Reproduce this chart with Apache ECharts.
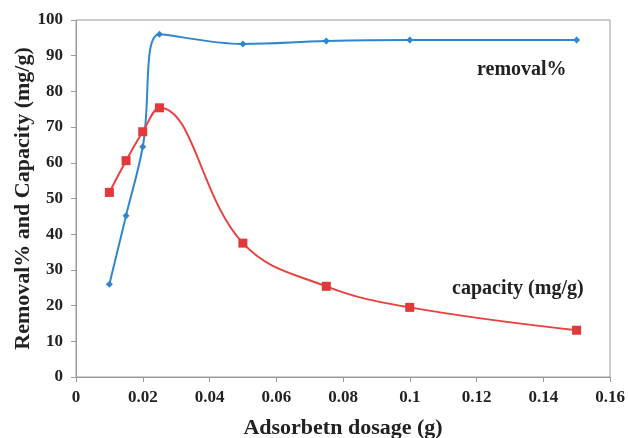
<!DOCTYPE html>
<html><head><meta charset="utf-8">
<script src="https://cdn.jsdelivr.net/npm/echarts@6/dist/echarts.min.js"></script>
<style>html,body{margin:0;padding:0;background:#fff}#c{width:628px;height:438px}</style>
</head><body><div id="c"></div>
<script>
const dosage = [0.01, 0.015, 0.02, 0.025, 0.05, 0.075, 0.1, 0.15];
const removal = [26, 45.2, 64.5, 96, 93.3, 94.1, 94.4, 94.4];
const capacity = [51.7, 60.6, 68.7, 75.4, 37.5, 25.4, 19.5, 13.1];
const xTicks = [0, 0.02, 0.04, 0.06, 0.08, 0.1, 0.12, 0.14, 0.16];
const yTicks = [0, 10, 20, 30, 40, 50, 60, 70, 80, 90, 100];

const font = '"Liberation Serif", "DejaVu Serif", serif';
const chart = echarts.init(document.getElementById('c'));
chart.setOption({
  animation: false,
  grid: {left: 76, right: 18, top: 20, bottom: 61, show: true, borderColor: '#9a9a9a', borderWidth: 1,
         containLabel: false, outerBoundsMode: 'none'},
  xAxis: {
    type: 'value', min: 0, max: 0.16, interval: 0.02,
    name: 'Adsorbetn dosage (g)', nameLocation: 'middle', nameGap: 40, nameMoveOverlap: false,
    nameTextStyle: {fontFamily: font, fontWeight: 'bold', fontSize: 22, color: '#222'},
    axisLine: {lineStyle: {color: '#9a9a9a'}},
    axisTick: {show: true, inside: false, length: 5, lineStyle: {color: '#9a9a9a'}},
    axisLabel: {fontFamily: font, fontWeight: 'bold', fontSize: 17, color: '#222', margin: 12,
      formatter: v => { const t = xTicks.find(x => Math.abs(x - v) < 1e-9); return t === undefined ? '' : String(t); }},
    splitLine: {show: false}
  },
  yAxis: {
    type: 'value', min: 0, max: 100, interval: 10,
    name: 'Removal% and Capacity (mg/g)', nameLocation: 'middle', nameGap: 42, nameMoveOverlap: false,
    nameTextStyle: {fontFamily: font, fontWeight: 'bold', fontSize: 22, color: '#222'},
    axisLine: {show: true, lineStyle: {color: '#9a9a9a'}},
    axisTick: {show: true, inside: false, length: 5, lineStyle: {color: '#9a9a9a'}},
    axisLabel: {fontFamily: font, fontWeight: 'bold', fontSize: 17, color: '#222', margin: 13,
      formatter: v => { const t = yTicks.find(y => Math.abs(y - v) < 1e-9); return t === undefined ? '' : String(t); }},
    splitLine: {show: false}
  },
  series: [
    {
      name: 'removal%', type: 'line', smooth: 0.4,
      data: dosage.map((d, i) => [d, removal[i]]),
      symbol: 'diamond', symbolSize: 7,
      lineStyle: {color: '#2f86d0', width: 2},
      itemStyle: {color: '#2f86d0'}
    },
    {
      name: 'capacity (mg/g)', type: 'line', smooth: 0.4,
      data: dosage.map((d, i) => [d, capacity[i]]),
      symbol: 'rect', symbolSize: 9,
      lineStyle: {color: '#e8413f', width: 2},
      itemStyle: {color: '#e0393a'}
    }
  ],
  graphic: [
    {type: 'text', left: 477, top: 60, style: {text: 'removal%', fontFamily: font, fontWeight: 'bold', fontSize: 20, fill: '#222'}},
    {type: 'text', left: 452, top: 279, style: {text: 'capacity (mg/g)', fontFamily: font, fontWeight: 'bold', fontSize: 20, fill: '#222'}}
  ]
});
</script></body></html>
